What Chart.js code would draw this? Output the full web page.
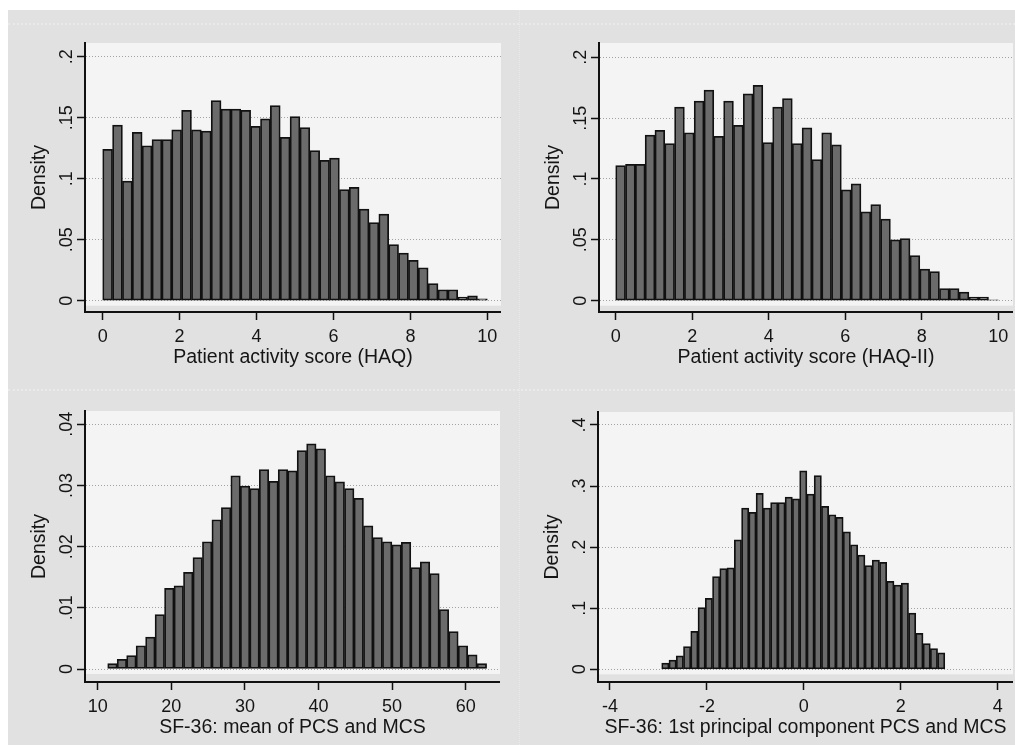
<!DOCTYPE html>
<html>
<head>
<meta charset="utf-8">
<script src="https://cdn.jsdelivr.net/npm/chart.js@4.4.0/dist/chart.umd.min.js"></script>
<style>
  html, body { margin: 0; padding: 0; background: #fff; overflow: hidden; }
  #page { position: absolute; left: 8px; top: 10px; width: 1007px; height: 735px; background: #e1e1e1; }
  .seam { position: absolute; border: 0 dotted #eaeaea; }
  canvas { position: absolute; }
</style>
</head>
<body>
<div id="page"></div>
<div class="seam" style="left:8px;top:23px;width:1007px;border-top-width:2px"></div>
<div class="seam" style="left:8px;top:389px;width:1007px;border-top-width:2px"></div>
<div class="seam" style="left:519px;top:10px;height:735px;border-left-width:1px"></div>
<canvas id="haq" width="496" height="339" style="left:5px;top:33px"></canvas>
<canvas id="haq2" width="494" height="339" style="left:519px;top:33px"></canvas>
<canvas id="sf36" width="495" height="341" style="left:5px;top:401px"></canvas>
<canvas id="pc" width="495" height="340" style="left:518px;top:402px"></canvas>
<script>
// bar heights (density)
const haqDensity = [0.124, 0.144, 0.098, 0.138, 0.127, 0.132, 0.132, 0.140, 0.156, 0.140,
  0.139, 0.164, 0.157, 0.157, 0.156, 0.143, 0.149, 0.160, 0.134, 0.151,
  0.142, 0.123, 0.115, 0.117, 0.091, 0.093, 0.075, 0.064, 0.071, 0.046,
  0.039, 0.033, 0.027, 0.014, 0.009, 0.009, 0.003, 0.004, 0.0016];
const haq2Density = [0.111, 0.112, 0.112, 0.136, 0.140, 0.129, 0.159, 0.138, 0.164, 0.173,
  0.135, 0.164, 0.144, 0.170, 0.177, 0.130, 0.159, 0.166, 0.129, 0.142,
  0.116, 0.138, 0.128, 0.091, 0.096, 0.073, 0.079, 0.067, 0.050, 0.051,
  0.037, 0.026, 0.024, 0.010, 0.010, 0.007, 0.003, 0.003, 0.0008];
const sf36Density = [0.0009, 0.0016, 0.0022, 0.0038, 0.0052, 0.0089, 0.0132, 0.0136, 0.0158, 0.0182,
  0.0208, 0.0244, 0.0264, 0.0316, 0.0299, 0.0295, 0.0326, 0.0307, 0.0326, 0.0324,
  0.0357, 0.0368, 0.0360, 0.0316, 0.0306, 0.0295, 0.0279, 0.0234, 0.0215, 0.0208,
  0.0203, 0.0207, 0.0166, 0.0175, 0.0156, 0.0097, 0.0061, 0.0038, 0.0023, 0.0009];
const pcDensity = [0.010, 0.015, 0.022, 0.037, 0.062, 0.101, 0.116, 0.152, 0.165, 0.166,
  0.212, 0.264, 0.257, 0.288, 0.264, 0.273, 0.273, 0.282, 0.279, 0.325,
  0.287, 0.317, 0.267, 0.253, 0.249, 0.225, 0.204, 0.187, 0.170, 0.179,
  0.175, 0.144, 0.138, 0.141, 0.092, 0.059, 0.042, 0.034, 0.027];

// histogram bins: first edge and bin width
const haqBins = { start: 0, width: 10 / 39 };
const haq2Bins = { start: 0, width: 10 / 39 };
const sf36Bins = { start: 11.36, width: 1.287 };
const pcBins = { start: -2.933, width: 0.1498 };

// tick values and labels
const haqXTicks = [0, 2, 4, 6, 8, 10];
const sf36XTicks = [10, 20, 30, 40, 50, 60];
const pcXTicks = [-4, -2, 0, 2, 4];
const haqYTicks = [0, 0.05, 0.1, 0.15, 0.2];
const haqYLabels = ['0', '.05', '.1', '.15', '.2'];
const sf36YTicks = [0, 0.01, 0.02, 0.03, 0.04];
const sf36YLabels = ['0', '.01', '.02', '.03', '.04'];
const pcYTicks = [0, 0.1, 0.2, 0.3, 0.4];
const pcYLabels = ['0', '.1', '.2', '.3', '.4'];

const FONT = "'Liberation Sans', Arial, Helvetica, sans-serif";
const INK = '#151515';

// light plot region, stops a little under the zero line
const plotFill = {
  id: 'plotFill',
  beforeDraw(chart) {
    const { ctx, chartArea: a, scales: { y } } = chart;
    ctx.save();
    ctx.fillStyle = '#f4f4f4';
    const bottom = y.getPixelForValue(0) + 5;
    ctx.fillRect(a.left + 1, a.top, a.right - a.left - 1, bottom - a.top);
    ctx.restore();
  }
};

// y tick labels turned on their side, like Stata does
const yLabels = {
  id: 'yLabels',
  afterDraw(chart, args, opts) {
    const { ctx, scales: { y } } = chart;
    ctx.save();
    ctx.fillStyle = INK;
    ctx.font = '18px ' + FONT;
    ctx.textAlign = 'center';
    ctx.textBaseline = 'alphabetic';
    opts.values.forEach((v, i) => {
      ctx.save();
      ctx.translate(y.right - 13, y.getPixelForValue(v));
      ctx.rotate(-Math.PI / 2);
      ctx.fillText(opts.labels[i], 0, 0);
      ctx.restore();
    });
    ctx.restore();
  }
};

function makeHist(id, o) {
  const points = o.values.map((v, i) => ({ x: o.bins.start + (i + 0.5) * o.bins.width, y: v }));
  return new Chart(document.getElementById(id), {
    type: 'bar',
    data: {
      datasets: [{
        data: points,
        backgroundColor: '#6b6b6b',
        borderColor: '#111',
        borderWidth: 1.75,
        borderSkipped: false,
        barPercentage: 1,
        categoryPercentage: 1
      }]
    },
    options: {
      responsive: false,
      animation: false,
      layout: { padding: { top: 10, left: 0, right: 0, bottom: 0 } },
      plugins: {
        legend: { display: false },
        tooltip: { enabled: false },
        yLabels: { values: o.yTicks, labels: o.yLabels }
      },
      scales: {
        x: {
          type: 'linear',
          min: o.xMin,
          max: o.xMax,
          offset: false,
          afterBuildTicks: s => { s.ticks = o.xTicks.map(v => ({ value: v })); },
          afterFit: s => { s.height = 60; },
          grid: { drawOnChartArea: false, offset: false, tickLength: 8, tickColor: '#111', tickWidth: 1.5 },
          border: { color: '#111', width: 2 },
          ticks: {
            autoSkip: false, maxRotation: 0, padding: 1, color: INK,
            font: { family: FONT, size: 18, lineHeight: 1.8 },
            callback: v => String(v)
          },
          title: {
            display: true, text: o.xTitle, color: INK,
            font: { family: FONT, size: 19.5, lineHeight: 1.2 },
            padding: { top: 0, bottom: 3 }
          }
        },
        y: {
          min: o.yMin,
          max: o.yMax,
          afterBuildTicks: s => { s.ticks = o.yTicks.map(v => ({ value: v })); },
          afterFit: s => { s.width = 80; },
          grid: { color: '#a2a2a2', lineWidth: 1, tickLength: 8, tickColor: '#111', tickWidth: 1.5 },
          border: { color: '#111', width: 2, dash: [1, 2] },
          ticks: { display: false },
          title: {
            display: true, text: 'Density', color: INK,
            font: { family: FONT, size: 19.5, lineHeight: 1.2 },
            padding: { top: 22.8, bottom: 0 }
          }
        }
      }
    },
    plugins: [plotFill, yLabels]
  });
}

makeHist('haq', {
  values: haqDensity, bins: haqBins, xTicks: haqXTicks, yTicks: haqYTicks, yLabels: haqYLabels,
  xMin: -0.4602, xMax: 10.356, yMin: -0.00926, yMax: 0.21123,
  xTitle: 'Patient activity score (HAQ)'
});
makeHist('haq2', {
  values: haq2Density, bins: haq2Bins, xTicks: haqXTicks, yTicks: haqYTicks, yLabels: haqYLabels,
  xMin: -0.4365, xMax: 10.384, yMin: -0.00929, yMax: 0.21175,
  xTitle: 'Patient activity score (HAQ-II)'
});
makeHist('sf36', {
  values: sf36Density, bins: sf36Bins, xTicks: sf36XTicks, yTicks: sf36YTicks, yLabels: sf36YLabels,
  xMin: 8.2745, xMax: 64.66, yMin: -0.002125, yMax: 0.042178,
  xTitle: 'SF-36: mean of PCS and MCS'
});
makeHist('pc', {
  values: pcDensity, bins: pcBins, xTicks: pcXTicks, yTicks: pcYTicks, yLabels: pcYLabels,
  xMin: -4.2476, xMax: 4.316, yMin: -0.02079, yMax: 0.42128,
  xTitle: 'SF-36: 1st principal component PCS and MCS'
});
</script>
</body>
</html>
